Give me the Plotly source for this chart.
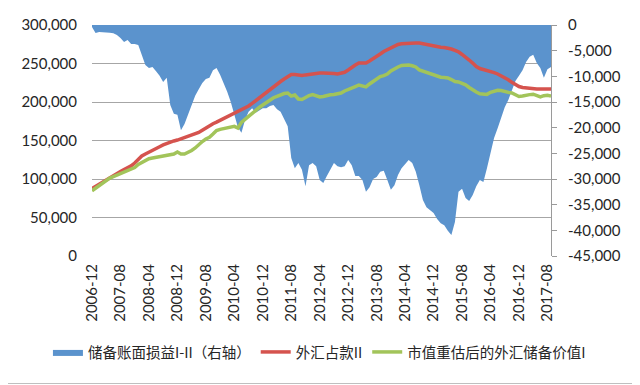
import pandas as pd
import plotly.graph_objects as go

# Monthly categories 2006-12 .. 2017-09
months = [p.strftime("%Y-%m") for p in pd.period_range("2006-12", "2017-09", freq="M")]

# 储备账面损益I-II (right axis)
reserve_gain = [
    -400, -1560, -1360, -1360, -1400, -1500, -1600, -1950, -2530, -3300,
    -2900, -3700, -3700, -3900, -5850, -7800, -8400, -8200, -9000, -9900,
    -11100, -10300, -15600, -17300, -17500, -20500, -19300, -17500, -15400, -13800,
    -12500, -11300, -10500, -10300, -8800, -8400, -9700, -11300, -13000, -15000,
    -17300, -19900, -21000, -18500, -16900, -16200, -17100, -16600, -16200, -16200,
    -15800, -15600, -16400, -16900, -18300, -19700, -25900, -27900, -26900, -28200,
    -31400, -27300, -26900, -27500, -30200, -30800, -29400, -28200, -26900, -27500,
    -27700, -27500, -26300, -27300, -29400, -29400, -30200, -32500, -31600, -30000,
    -29600, -28600, -28400, -30200, -32100, -31200, -29200, -27900, -27100, -26300,
    -26900, -28600, -31200, -34100, -35500, -36000, -36600, -37800, -38600, -39000,
    -40100, -40900, -38400, -32500, -31900, -33700, -34300, -33100, -31400, -30200,
    -30600, -27900, -24900, -22000, -20100, -18100, -16000, -14600, -12700, -10900,
    -9900, -8800, -7200, -6200, -5800, -7400, -8400, -10300, -8600, -8200,
]

# 外汇占款II (left axis)
fx_funds = [
    87700, 90500, 93500, 96400, 99400, 102500, 104700, 107100, 109700, 112300,
    114700, 117000, 120800, 126000, 129900, 132500, 135100, 137300, 139600, 141900,
    144200, 146100, 148100, 149400, 150600, 152200, 153600, 155100, 156600, 158400,
    160400, 163200, 166500, 169700, 171800, 173800, 176100, 178400, 180800, 183800,
    186500, 188400, 190400, 192300, 194800, 198100, 201800, 205700, 209100, 212500,
    216200, 220000, 223400, 226600, 229900, 233100, 235800, 235600, 234400, 234300,
    235200, 235800, 237000, 237700, 237700, 237700, 237700, 237400, 237000, 236500,
    237000, 238600, 241600, 245500, 248000, 250600, 250600, 250600, 253200, 255800,
    259100, 262300, 265600, 268200, 270100, 272100, 274700, 275600, 276100, 276600,
    276600, 276600, 276600, 275600, 274700, 273800, 272700, 271800, 271200, 270800,
    270300, 268800, 266900, 265100, 261700, 258600, 254500, 250600, 246100, 243500,
    242300, 241200, 239900, 238200, 236400, 234200, 231900, 228800, 225500, 222500,
    220100, 218800, 218200, 217400, 216900, 216900, 216900, 216900, 216900, 216900,
]

# 市值重估后的外汇储备价值I (left axis)
reserve_value = [
    84800, 88100, 91400, 94500, 97800, 101200, 103100, 104900, 106900, 108700,
    110400, 112100, 114900, 119000, 121700, 124700, 126400, 127300, 128100, 129000,
    129900, 130500, 131200, 132500, 135100, 132500, 132500, 134400, 137000, 140300,
    144800, 148700, 151900, 154200, 158400, 163000, 164500, 165300, 166400, 167900,
    168400, 166200, 173600, 177400, 181300, 186000, 189500, 192900, 196100, 199300,
    202600, 205600, 207400, 209600, 211000, 211700, 207800, 209100, 203900, 203200,
    205800, 208400, 209700, 208400, 206500, 207100, 208400, 209300, 209700, 210300,
    211700, 214300, 216600, 218200, 220100, 222100, 220800, 219700, 223400, 226900,
    230300, 233100, 234300, 236400, 240300, 243500, 245500, 247400, 248000, 248000,
    247100, 245500, 241600, 240000, 238700, 237500, 235700, 233400, 232200, 231800,
    231300, 229100, 226500, 226000, 224400, 222300, 218800, 215600, 212900, 210600,
    209900, 209900, 212600, 214500, 215200, 214900, 213400, 212500, 211800, 209700,
    207100, 207700, 209100, 209600, 210100, 208200, 206500, 208200, 208700, 207800,
]

left_ticks = [0, 50000, 100000, 150000, 200000, 250000, 300000]
left_labels = ["0", "50,000", "100,000", "150,000", "200,000", "250,000", "300,000"]
right_ticks = [0, -5000, -10000, -15000, -20000, -25000, -30000, -35000, -40000, -45000]
right_labels = ["0", "-5,000", "-10,000", "-15,000", "-20,000", "-25,000",
                "-30,000", "-35,000", "-40,000", "-45,000"]
x_tick_labels = months[::8]

names = ["储备账面损益I-II（右轴）", "外汇占款II", "市值重估后的外汇储备价值I"]
colors = ["#5B93CD", "#D5534E", "#A2C45A"]

fig = go.Figure()
fig.add_trace(go.Scatter(
    x=months, y=reserve_gain, name=names[0], yaxis="y",
    mode="lines", fill="tozeroy", fillcolor=colors[0],
    line=dict(color=colors[0], width=0),
))
fig.add_trace(go.Scatter(
    x=months, y=fx_funds, name=names[1], yaxis="y2",
    mode="lines", line=dict(color=colors[1], width=3.5),
))
fig.add_trace(go.Scatter(
    x=months, y=reserve_value, name=names[2], yaxis="y2",
    mode="lines", line=dict(color=colors[2], width=3.5),
))

tick_font = dict(family="Lato, 'Open Sans', sans-serif", size=15, color="#262626")

# page body has an 8px margin: shift the layout so the plot lands where the reference has it
fig.update_layout(
    width=640, height=385,
    paper_bgcolor="white", plot_bgcolor="white",
    margin=dict(l=84, r=97, t=17, b=137),
    showlegend=True,
    legend=dict(
        orientation="h", x=-0.096, xanchor="left", y=-0.4156, yanchor="middle",
        font=dict(family="'Noto Sans CJK SC', sans-serif", size=14.5, color="#262626"),
        itemwidth=30, tracegroupgap=0, bgcolor="rgba(0,0,0,0)",
    ),
    xaxis=dict(
        type="category", range=[0, len(months) - 1],
        tickmode="array", tickvals=x_tick_labels, ticktext=x_tick_labels,
        tickangle=-90, tickfont=tick_font, showgrid=False, zeroline=False,
        showline=False, ticks="", automargin=False, ticklabelstandoff=4,
    ),
    yaxis=dict(
        side="right", range=[-45000, 0],
        tickmode="array", tickvals=right_ticks, ticktext=right_labels,
        tickfont=tick_font, showgrid=False, zeroline=False,
        showline=True, linecolor="#9a9a9a", linewidth=1,
        ticks="outside", ticklen=5, tickcolor="#9a9a9a", automargin=False,
        ticklabelstandoff=8,
    ),
    yaxis2=dict(
        side="left", overlaying="y", range=[0, 300000],
        tickmode="array", tickvals=left_ticks, ticktext=left_labels,
        tickfont=tick_font, showgrid=True, gridcolor="#a6a6a6", gridwidth=1,
        zeroline=False, showline=False, ticks="", automargin=False,
        ticklabelstandoff=14,
    ),
    shapes=[dict(
        type="rect", xref="paper", yref="paper",
        x0=-91 / 459, x1=547 / 459, y0=(256 - 383.5) / 231, y1=(256 - 1) / 231,
        line=dict(color="#bfbfbf", width=1), fillcolor="rgba(0,0,0,0)", layer="below",
    )],
)

fig.write_html("out.html")
